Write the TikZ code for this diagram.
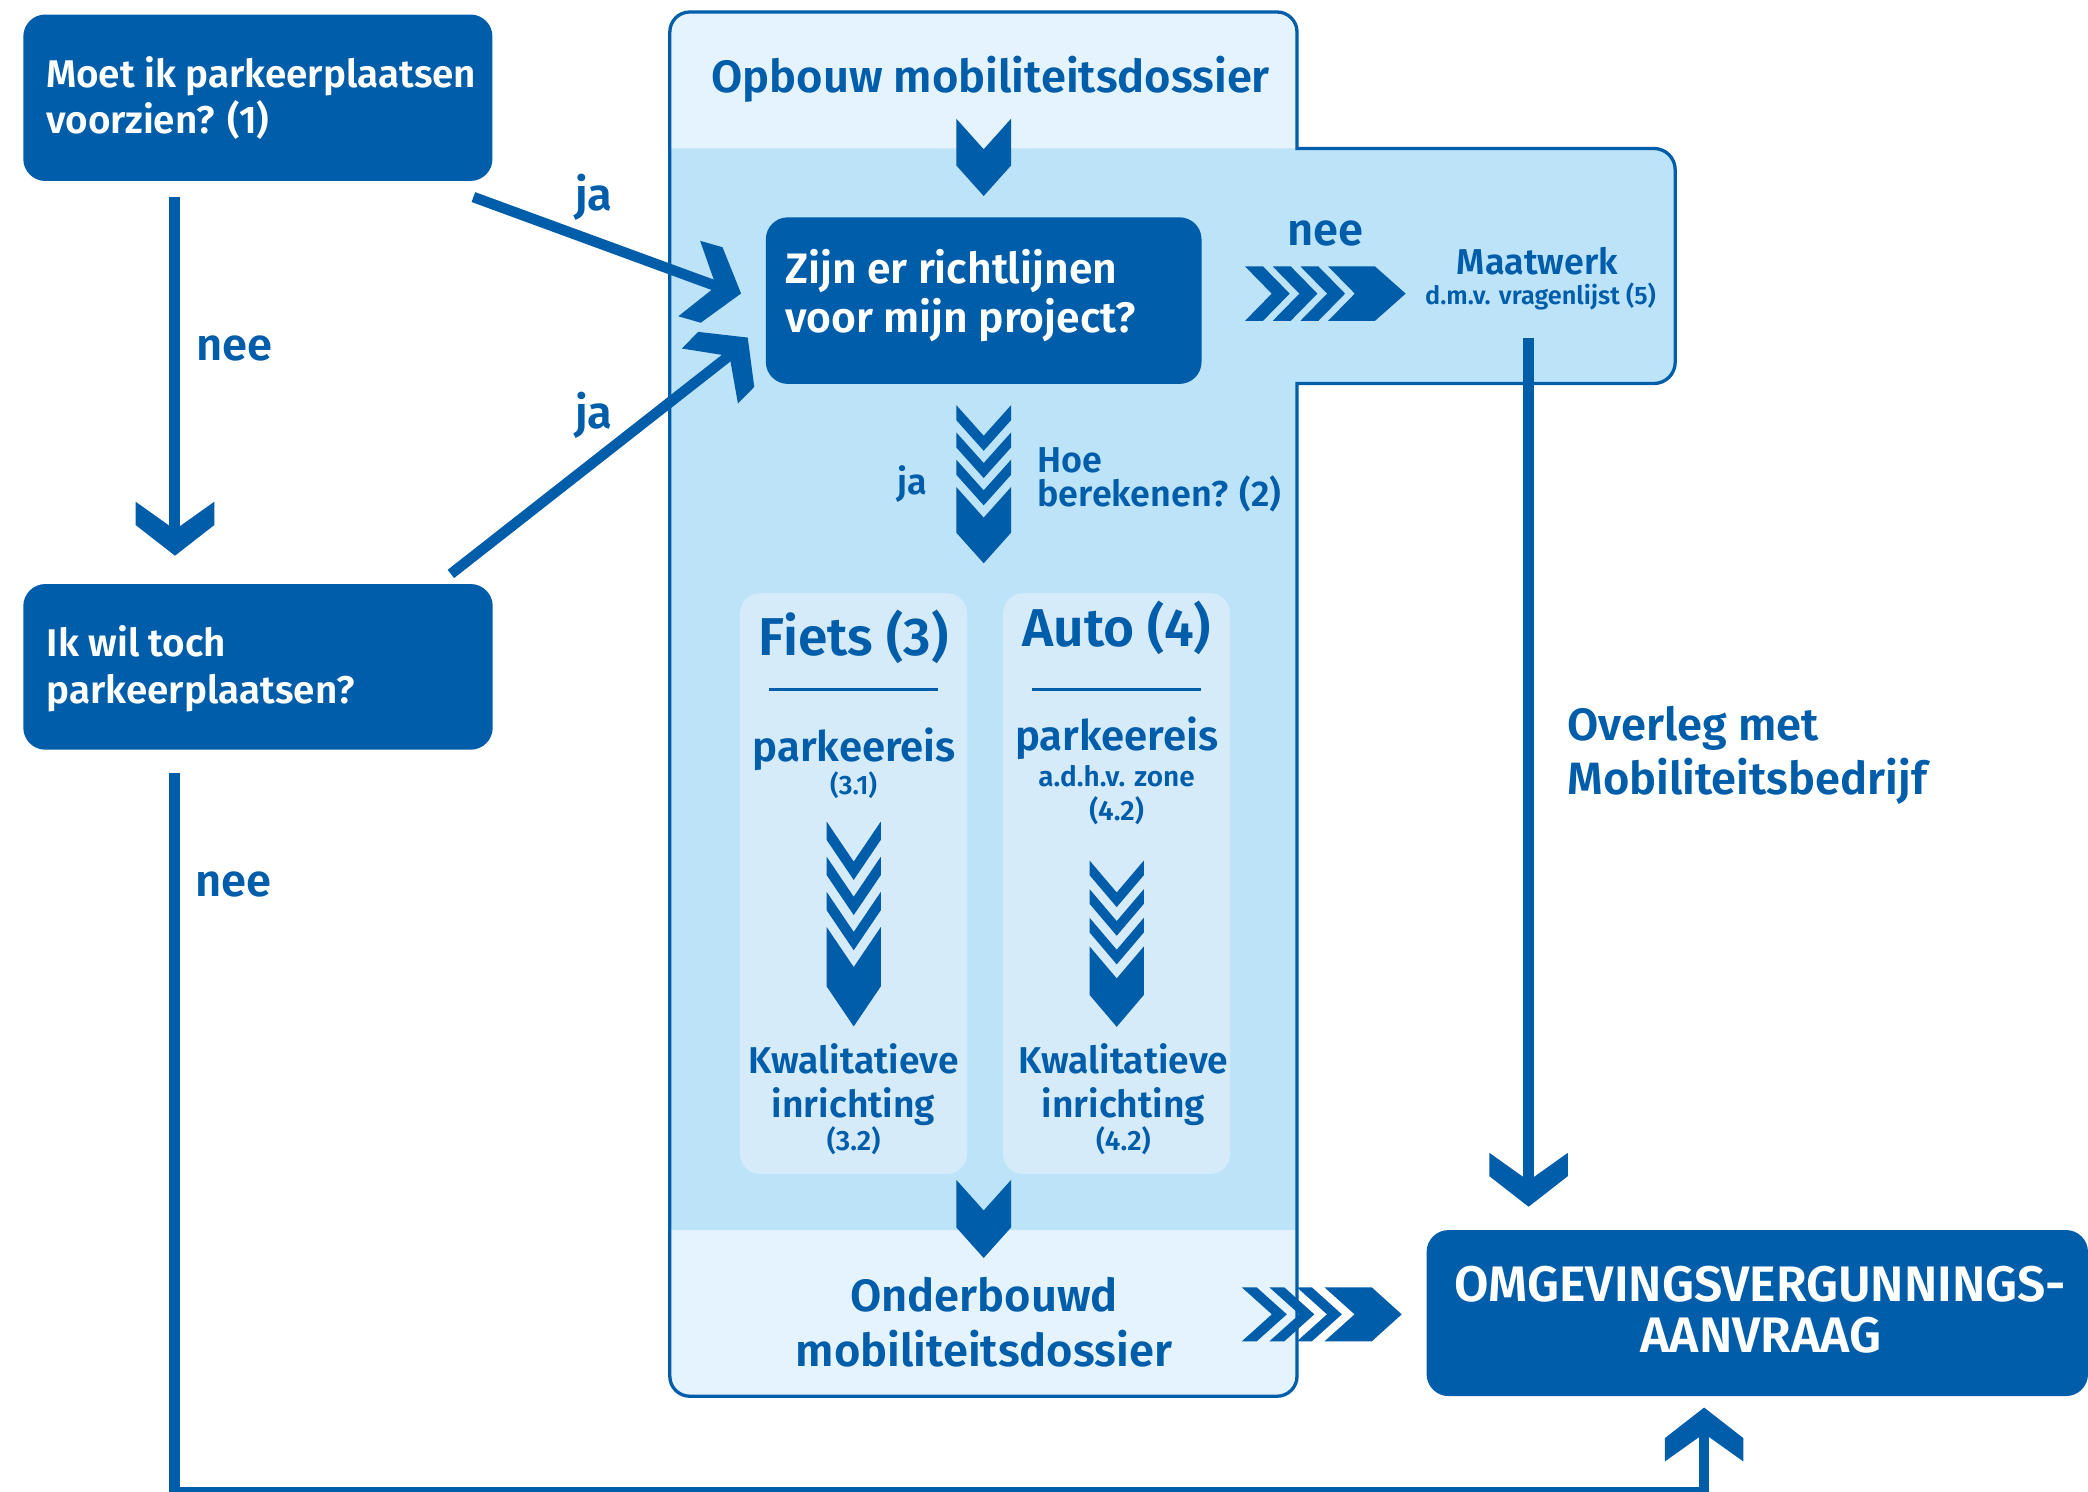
\documentclass[tikz,border=0pt]{standalone}
\usepackage{fontspec}
\setmainfont{Fira Sans}[BoldFont={Fira Sans SemiBold}]
\usetikzlibrary{fit}
\definecolor{dk}{HTML}{005DAA}
\definecolor{lt}{HTML}{E4F3FD}
\definecolor{md}{HTML}{BDE3F8}
\definecolor{inb}{HTML}{D5EBFA}
\newcommand\fsz[1]{\fontsize{\fpeval{#1*1.3316}}{\fpeval{#1*1.6}}\selectfont}
% chevron arrow head: tip x, tip y, rotation
\newcommand\chevhead[3]{\fill[dk,shift={(#1,#2)},rotate=#3] (0,0) -- (-23,29.5) -- (-40.5,29.5) -- (-19.5,0) -- (-40.5,-29.5) -- (-23,-29.5) -- cycle;}
% downward chevron body: cx, top, half width, notch depth, side length
\newcommand\chevbody[5]{\fill[dk] (#1-#3,#2) -- (#1,#2+#4) -- (#1+#3,#2) -- (#1+#3,#2+#5) -- (#1,#2+#5+#4) -- (#1-#3,#2+#5) -- cycle;}
% stack: cx, top, a, d, t, period, body length
\newcommand\chevstack[7]{%
  \foreach \k in {0,1,2}{\pgfmathsetmacro\yy{#2+\k*#6}
    \fill[dk] (#1-#3,\yy) -- (#1,\yy+#4) -- (#1+#3,\yy) -- (#1+#3,\yy+#5) -- (#1,\yy+#4+#5) -- (#1-#3,\yy+#5) -- cycle;}
  \pgfmathsetmacro\yb{#2+3*#6}
  \chevbody{#1}{\yb}{#3}{#4}{#7}}
% rightward triple chevron: s0, c, h, w, period, dx, flat end offset, tip offset
\newcommand\tripr[8]{%
  \foreach \k in {0,1,2}{\pgfmathsetmacro\xx{#1+\k*#5}
    \fill[dk] (\xx,#2-#3) -- ++(#4,0) -- ++(#6,#3) -- ++(-#6,#3) -- ++(-#4,0) -- ++(#6,-#3) -- cycle;}
  \pgfmathsetmacro\xb{#1+3*#5}
  \fill[dk] (\xb,#2-#3) -- (#1+#7,#2-#3) -- (#1+#8,#2) -- (#1+#7,#2+#3) -- (\xb,#2+#3) -- ++(#6,-#3) -- cycle;}
\newcommand\contpath{(503,24) arc[start angle=180,end angle=270,radius=15] -- (959,9) arc[start angle=270,end angle=360,radius=15] -- (974,111.5) -- (1242,111.5) arc[start angle=270,end angle=360,radius=16] -- (1258,272) arc[start angle=0,end angle=90,radius=16] -- (974,288) -- (974,1033.5) arc[start angle=0,end angle=90,radius=15] -- (518,1048.5) arc[start angle=90,end angle=180,radius=15] -- cycle}
\begin{document}
\begin{tikzpicture}[x=1.3316pt,y=-1.3316pt,
  dkbox/.style={fill=dk,rounded corners=22pt,inner sep=0pt,draw=none},
  inbox/.style={fill=inb,rounded corners=20pt,inner sep=0pt,draw=none},
  wt/.style={text=white,inner sep=0pt},
  bt/.style={text=dk,inner sep=0pt},
  conn/.style={draw=dk,line width=10.5pt},
  f19/.style={font=\bfseries\fsz{19}},
  f20/.style={font=\bfseries\fsz{20}},
  f21/.style={font=\bfseries\fsz{21}},
  f27/.style={font=\bfseries\fsz{27}},
  f28/.style={font=\bfseries\fsz{28}},
  f29/.style={font=\bfseries\fsz{29}},
  f31/.style={font=\bfseries\fsz{31.5}},
  f32/.style={font=\bfseries\fsz{32}},
  f34/.style={font=\bfseries\fsz{34}},
  f37/.style={font=\bfseries\fsz{37.5}},
  f40/.style={font=\bfseries\fsz{40}}]
\useasboundingbox (0,0) rectangle (1568,1120);
\clip (0,0) rectangle (1568,1120);
\fill[white] (0,0) rectangle (1568,1120);

% container
\path[fill=lt] \contpath;
\path[fill=md] (503,111.5) -- (1242,111.5) arc[start angle=270,end angle=360,radius=16] -- (1258,272) arc[start angle=0,end angle=90,radius=16] -- (974,288) -- (974,923.7) -- (503,923.7) -- cycle;
\draw[dk,line width=3.3pt] \contpath;

% inner boxes
\node[inbox,fit={(555.7,445.5) (726.2,881.6)}] (fiets) {};
\node[inbox,fit={(753.3,445.5) (923.7,881.6)}] (auto) {};
\draw[dk,line width=3.3pt] (577.5,517.7) -- (704.5,517.7);
\draw[dk,line width=3.3pt] (775,517.7) -- (902,517.7);

% dark boxes
\node[dkbox,fit={(17.5,10.9) (369.8,135.9)}] (b1) {};
\node[dkbox,fit={(17.5,438.6) (370,563)}] (b2) {};
\node[dkbox,fit={(575.1,163.2) (902.3,288.3)}] (bz) {};
\node[dkbox,fit={(1071.3,923.7) (1568,1048.4)}] (bo) {};

% texts in dark boxes
\node[wt,f29,anchor=base west] (b1t1) at (34.5,66) {Moet ik parkeerplaatsen};
\node[wt,f29,anchor=base west] (b1t2) at (34.5,100.6) {voorzien? (1)};
\node[wt,f29,anchor=base west] (b2t1) at (35,493) {Ik wil toch};
\node[wt,f29,anchor=base west] (b2t2) at (35,528) {parkeerplaatsen?};
\node[wt,f32,anchor=base west] (bzt1) at (589.5,213) {Zijn er richtlijnen};
\node[wt,f32,anchor=base west] (bzt2) at (589.5,250) {voor mijn project?};
\node[wt,f37,anchor=base] (bot1) at (1322,977.5) {OMGEVINGSVERGUNNINGS-};
\node[wt,f37,anchor=base] (bot2) at (1322.5,1015.8) {AANVRAAG};

% container texts
\node[bt,f34,anchor=base] (opb) at (744,69.5) {Opbouw mobiliteitsdossier};
\node[bt,f34,anchor=base] (ond1) at (738.9,985) {Onderbouwd};
\node[bt,f34,anchor=base] (ond2) at (738.9,1025.8) {mobiliteitsdossier};
\node[bt,f34,anchor=base] (nee3) at (995.4,184.7) {nee};
\node[bt,f27,anchor=base] (maat) at (1154.6,205.8) {Maatwerk};
\node[bt,f19,anchor=base] (dmv) at (1156.8,228.5) {d.m.v. vragenlijst (5)};
\node[bt,f27,anchor=base west] (hoe1) at (779,355) {Hoe};
\node[bt,f27,anchor=base west] (hoe2) at (779,380.5) {berekenen? (2)};
\node[bt,f27,anchor=base west] (ja3) at (673.6,371) {ja};
\node[bt,f40,anchor=base] (ft) at (641,492.6) {Fiets (3)};
\node[bt,f40,anchor=base] (at) at (838.6,485.6) {Auto (4)};
\node[bt,f31,anchor=base] (fp) at (641.4,571.5) {parkeereis};
\node[bt,f20,anchor=base] (fp2) at (641,597) {(3.1)};
\node[bt,f31,anchor=base] (ap) at (838.5,563.7) {parkeereis};
\node[bt,f21,anchor=base] (ap2) at (838.5,590.4) {a.d.h.v. zone};
\node[bt,f21,anchor=base] (ap3) at (838.5,616) {(4.2)};
\node[bt,f28,anchor=base] (fk1) at (641,805.8) {Kwalitatieve};
\node[bt,f28,anchor=base] (fk2) at (641,839) {inrichting};
\node[bt,f21,anchor=base] (fk3) at (641,864) {(3.2)};
\node[bt,f28,anchor=base] (ak1) at (843.6,805.8) {Kwalitatieve};
\node[bt,f28,anchor=base] (ak2) at (843.6,839) {inrichting};
\node[bt,f21,anchor=base] (ak3) at (843.6,864) {(4.2)};

% outside texts
\node[bt,f34,anchor=base] (ja1) at (446,158) {ja};
\node[bt,f34,anchor=base] (ja2) at (446,322) {ja};
\node[bt,f34,anchor=base] (nee1) at (176,271) {nee};
\node[bt,f34,anchor=base] (nee2) at (175.5,673) {nee};
\node[bt,f34,anchor=base west] (ov1) at (1177,556) {Overleg met};
\node[bt,f34,anchor=base west] (ov2) at (1177,597) {Mobiliteitsbedrijf};

% chevrons inside container
\chevbody{738.7}{89.1}{20.6}{23}{35.1}
\chevstack{738.7}{304.2}{20.6}{23}{11.3}{20.5}{34.3}
\chevstack{641.1}{617}{20.3}{30}{13.8}{26.4}{44.6}
\chevstack{838.6}{646.2}{20.4}{24}{11}{21.5}{36.4}
\chevbody{738.7}{886}{20.6}{23}{35.7}
\tripr{935}{220.5}{20.4}{13.5}{20.8}{20}{97.6}{120.6}
\tripr{932.5}{987}{20.3}{11.2}{20.7}{22.6}{97.6}{120.1}

% connectors
\coordinate (j1s) at (355.5,148);
\coordinate (j1e) at (540.2,215.7);
\coordinate (j2s) at (338.6,431);
\coordinate (j2e) at (549.6,265.6);
\coordinate (n1s) at (131,148);
\coordinate (n1e) at (131,400);
\coordinate (n2s) at (131,580.5);
\coordinate (n2c) at (131,1120.5);
\coordinate (n2d) at (1279.7,1120.5);
\coordinate (n2e) at (1279.7,1074);
\coordinate (ms) at (1147.7,253.5);
\coordinate (me) at (1147.7,889);
\draw[conn] (j1s) -- (j1e);
\draw[conn] (j2s) -- (j2e);
\draw[conn] (n1s) -- (n1e);
\draw[conn,line join=miter] (n2s) -- (n2c) -- (n2d) -- (n2e);
\draw[conn] (ms) -- (me);
\chevhead{556.5}{220.4}{-16.1}
\chevhead{561.5}{253.5}{45.5}
\chevhead{131.4}{417.3}{-90}
\chevhead{1147.9}{906.2}{-90}
\chevhead{1279.7}{1057}{90}
\end{tikzpicture}
\end{document}
